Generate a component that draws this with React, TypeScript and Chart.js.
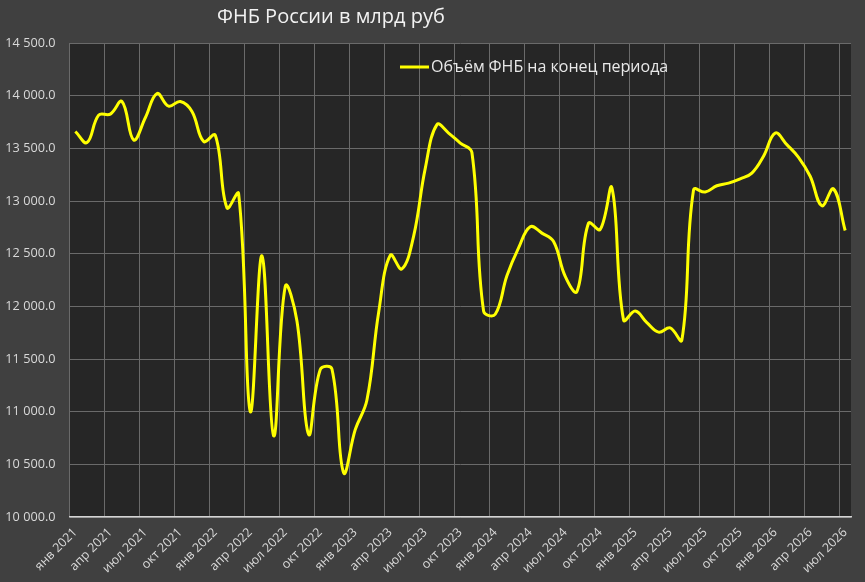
import React, { useEffect, useRef } from 'react';
import { Chart, registerables } from 'chart.js';

Chart.register(...registerables);

// месяцы с янв 2021 по июл 2026
const months = [
  'янв 2021', 'фев 2021', 'мар 2021', 'апр 2021', 'май 2021', 'июн 2021',
  'июл 2021', 'авг 2021', 'сен 2021', 'окт 2021', 'ноя 2021', 'дек 2021',
  'янв 2022', 'фев 2022', 'мар 2022', 'апр 2022', 'май 2022', 'июн 2022',
  'июл 2022', 'авг 2022', 'сен 2022', 'окт 2022', 'ноя 2022', 'дек 2022',
  'янв 2023', 'фев 2023', 'мар 2023', 'апр 2023', 'май 2023', 'июн 2023',
  'июл 2023', 'авг 2023', 'сен 2023', 'окт 2023', 'ноя 2023', 'дек 2023',
  'янв 2024', 'фев 2024', 'мар 2024', 'апр 2024', 'май 2024', 'июн 2024',
  'июл 2024', 'авг 2024', 'сен 2024', 'окт 2024', 'ноя 2024', 'дек 2024',
  'янв 2025', 'фев 2025', 'мар 2025', 'апр 2025', 'май 2025', 'июн 2025',
  'июл 2025', 'авг 2025', 'сен 2025', 'окт 2025', 'ноя 2025', 'дек 2025',
  'янв 2026', 'фев 2026', 'мар 2026', 'апр 2026', 'май 2026', 'июн 2026',
  'июл 2026',
];

// объём ФНБ на конец периода, млрд руб
const fundVolume = [
  13660, 13555, 13815, 13825, 13945, 13580, 13790, 14020, 13900, 13945, 13850, 13565,
  13625, 12935, 13070, 11000, 12480, 10770, 12190, 11860, 10785, 11400, 11405, 10420,
  10830, 11110, 11940, 12485, 12355, 12665, 13310, 13725, 13645, 13550, 13460, 11955,
  11925, 12290, 12555, 12755, 12695, 12615, 12285, 12140, 12790, 12730, 13125, 11870,
  11955, 11845, 11755, 11795, 11680, 13105, 13085, 13145, 13170, 13210, 13265, 13425,
  13645, 13535, 13415, 13235, 12955, 13115, 12720,
];

const yMin = 10000;
const yMax = 14500;
const yStep = 500;

const chartTitle = 'ФНБ России в млрд руб';
const seriesName = 'Объём ФНБ на конец периода';

const FONT = '"Open Sans", "Noto Sans", sans-serif';

const fmt = (v: number) => {
  const [i, d] = v.toFixed(1).split('.');
  return i.replace(/\B(?=(\d{3})+(?!\d))/g, ' ') + '.' + d;
};

const backgroundPlugin = {
  id: 'bg',
  beforeDraw(chart: any) {
    const { ctx, chartArea } = chart;
    ctx.save();
    ctx.fillStyle = '#404040';
    ctx.fillRect(0, 0, chart.width, chart.height);
    ctx.fillStyle = '#262626';
    ctx.fillRect(chartArea.left, chartArea.top, chartArea.right - chartArea.left, chartArea.bottom - chartArea.top);
    ctx.restore();
  },
};

// заголовок и легенда стоят не по центру, рисуем сами
const titleLegendPlugin = {
  id: 'titleLegend',
  afterDraw(chart: any) {
    const { ctx } = chart;
    ctx.save();
    ctx.fillStyle = '#f2f2f2';
    ctx.font = `20px ${FONT}`;
    ctx.textBaseline = 'alphabetic';
    ctx.textAlign = 'left';
    ctx.fillText(chartTitle, 217, 23);

    ctx.strokeStyle = '#ffff00';
    ctx.lineWidth = 3;
    ctx.beginPath();
    ctx.moveTo(400, 67);
    ctx.lineTo(429, 67);
    ctx.stroke();
    ctx.fillStyle = '#e8e8e8';
    ctx.font = `16px ${FONT}`;
    ctx.textBaseline = 'middle';
    ctx.fillText(seriesName, 431, 67);
    ctx.restore();
  },
};

const App: React.FC = () => {
  const chartRef = useRef<HTMLCanvasElement | null>(null);

  useEffect(() => {
    const ctx = chartRef.current?.getContext('2d');
    if (!ctx) return;

    const chart = new Chart(ctx, {
      type: 'line',
      data: {
        labels: months,
        datasets: [
          {
            label: seriesName,
            data: fundVolume,
            borderColor: '#ffff00',
            borderWidth: 3,
            pointRadius: 0,
            tension: 0.4,
            fill: false,
          },
        ],
      },
      options: {
        animation: false,
        responsive: true,
        maintainAspectRatio: false,
        layout: { padding: { top: 43, right: 14, left: 0, bottom: 0 } },
        plugins: {
          legend: { display: false },
          title: { display: false },
          tooltip: { enabled: false },
        },
        scales: {
          x: {
            type: 'category',
            offset: true,
            grid: {
              offset: true,
              drawTicks: false,
              color: (c: any) => (c.index % 3 === 0 ? '#6a6a6a' : 'transparent'),
            },
            border: { color: '#d4d4d4', width: 1.5 },
            ticks: {
              autoSkip: false,
              minRotation: 45,
              maxRotation: 45,
              padding: 8,
              color: '#d9d9d9',
              font: { family: FONT, size: 12.5 },
              callback: (_v: any, i: number) => (i % 3 === 0 ? months[i] : ''),
            },
            afterFit: (scale: any) => {
              scale.height = 65;
            },
          },
          y: {
            min: yMin,
            max: yMax,
            grid: { color: '#6a6a6a', drawTicks: false },
            border: { display: false },
            ticks: {
              stepSize: yStep,
              padding: 14,
              color: '#d9d9d9',
              font: { family: FONT, size: 12.7 },
              callback: (v: any) => fmt(Number(v)),
            },
            afterFit: (scale: any) => {
              scale.width = 69.5;
            },
          },
        },
      },
      plugins: [backgroundPlugin, titleLegendPlugin],
    });

    return () => {
      chart.destroy();
    };
  }, []);

  return (
    <div style={{ position: 'fixed', left: 0, top: 0, width: 865, height: 582 }}>
      <canvas ref={chartRef} />
    </div>
  );
};

export default App;
